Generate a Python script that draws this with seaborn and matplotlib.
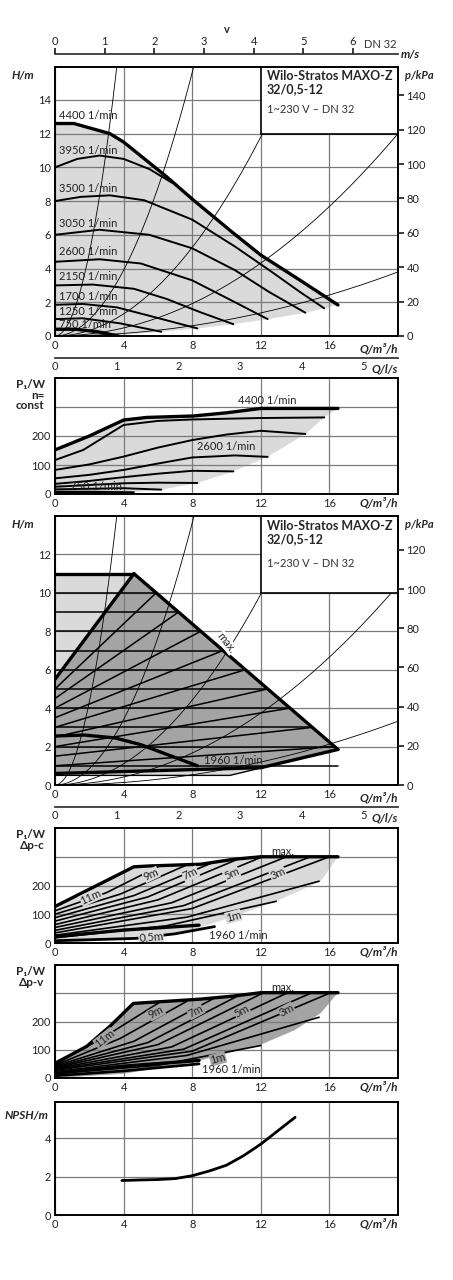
import numpy as np
import matplotlib
matplotlib.use("Agg")
import matplotlib.pyplot as plt
import seaborn as sns

sns.set_theme(style="white")
plt.rcParams['font.family'] = ['Lato', 'DejaVu Sans']
plt.rcParams['font.size'] = 8

# ---------------- data ----------------
x_ticks = [0, 4, 8, 12, 16]
v_ticks = [0, 1, 2, 3, 4, 5, 6]
qls_ticks = [0, 1, 2, 3, 4, 5]
kpa_ticks1 = [0, 20, 40, 60, 80, 100, 120, 140]
kpa_ticks3 = [0, 20, 40, 60, 80, 100, 120]

speeds = ["4400", "3950", "3500", "3050", "2600", "2150", "1700", "1250", "750"]
h_q = {
    "4400": [0, 1.1, 3.2, 4.0, 6.5, 8.07, 10.4, 12.0, 14.3, 16.5],
    "3950": [0, 1.3, 2.6, 4, 5.5, 6.8],
    "3500": [0, 1.5, 3.2, 5.2, 8, 10.5, 12.5, 14.3, 15.7],
    "3050": [0, 2.6, 5.5, 8, 10.5, 12.5, 14.6],
    "2600": [0, 2.6, 5, 8, 10.5, 12.4],
    "2150": [0, 2.2, 4.6, 6.5, 8.5, 10.4],
    "1700": [0, 1.6, 3.6, 5.5, 8.3],
    "1250": [0, 1.6, 3.8, 6.2],
    "750": [0, 1.2, 2.5, 3.7],
}
h_h = {
    "4400": [12.6, 12.6, 12.0, 11.5, 9.45, 8.06, 6.1, 4.8, 3.3, 1.84],
    "3950": [10, 10.5, 10.7, 10.5, 9.9, 9.1],
    "3500": [8, 8.25, 8.34, 8.05, 6.9, 5.3, 3.9, 2.6, 1.64],
    "3050": [6, 6.3, 6.0, 5.2, 3.9, 2.6, 1.38],
    "2600": [4.4, 4.55, 4.3, 3.3, 2.0, 1.0],
    "2150": [3, 3.05, 2.8, 2.2, 1.4, 0.7],
    "1700": [1.85, 1.9, 1.7, 1.2, 0.45],
    "1250": [1.0, 1.05, 0.75, 0.25],
    "750": [0.4, 0.4, 0.25, 0.0],
}
h_label_y = [13.05, 11.0, 8.75, 6.68, 5.0, 3.5, 2.37, 1.44, 0.71]
low1_q = [0, 3.7, 6.2, 8.3, 10.4, 12.4, 14.6, 15.7, 16.5]
low1_h = [0, 0.05, 0.25, 0.45, 0.7, 1.0, 1.38, 1.64, 1.84]
sys_k1 = [1.23, 0.244, 0.082, 0.03, 0.0095]
sys_k3 = [1.08, 0.213, 0.069, 0.026, 0.0083]

p_q = {
    "4400": [0, 2, 4, 5.35, 8.07, 10, 12, 16.5],
    "3950": [0, 1.65, 4, 6, 8, 12, 15.7],
    "3500": [0, 2, 4, 6, 8, 10, 12, 14.6],
    "3050": [0, 2, 4, 6, 8, 10.5, 12.4],
    "2600": [0, 2, 4, 6, 8, 10.4],
    "2150": [0, 2, 4, 6, 8.3],
    "1700": [0, 2, 4, 6.2],
    "1250": [0, 2, 4.6],
    "750": [0, 1.8, 3.6],
}
p_p = {
    "4400": [152, 200, 255, 264, 269, 280, 295, 295],
    "3950": [117, 152, 238, 252, 257, 262, 264],
    "3500": [83, 102, 129, 160, 186, 205, 218, 207],
    "3050": [54, 66, 83, 105, 126, 133, 128],
    "2600": [35, 45, 58, 70, 80, 78],
    "2150": [25, 31, 37, 39, 38],
    "1700": [16, 18, 20, 15],
    "1250": [8, 8, 6],
    "750": [3, 3, 3],
}
low2_q = [0, 3.6, 4.6, 6.2, 8.3, 10.4, 12.4, 14.6, 15.7, 16.5]
low2_p = [0, 3, 6, 15, 38, 78, 128, 207, 264, 295]

# panel 3 (H, regulated)
light3_q = [0, 0, 4.6, 16.5, 10.2]
light3_h = [0.5, 11, 11, 1.85, 0.5]
dark3_q = [0, 0, 4.6, 16.5, 12]
dark3_h = [0.6, 5.5, 11, 1.85, 0.9]
max3_q = [4.6, 16.5]
max3_h = [11, 1.85]
pc_levels = [1, 2, 3, 4, 5, 6, 7, 8, 9, 10]
pv_levels = [2, 3, 4, 5, 6, 7, 8, 9, 10]
q1960_3 = [0, 1.7, 3.5, 5, 6.5, 8.3]
h1960_3 = [2.55, 2.6, 2.45, 2.1, 1.6, 1.0]
bot3_q = [0, 12, 16.5]
bot3_h = [0.6, 0.9, 1.85]

# panel 4 (P1, dp-c)
max4_q = [0, 4.6, 5.5, 8.5, 10.4, 12, 16.5]
max4_p = [127, 265, 268, 274, 291, 300, 300]
low4_q = [0, 4, 8, 10.4, 12.9, 15.5, 16.5]
low4_p = [0, 12, 45, 92, 145, 215, 300]
lines4_q = [[0, 3.0, 6.1], [0, 3.8, 7.7], [0, 4.6, 9.2], [0, 5.4, 10.8], [0, 6.0, 12.1],
            [0, 6.8, 13.5], [0, 7.5, 14.9], [0, 8.0, 16.0], [0, 7.7, 15.4], [0, 6.5, 12.9]]
lines4_p = [[112, 175, 268], [100, 170, 272], [88, 165, 280], [76, 160, 295], [64, 150, 300],
            [54, 140, 300], [44, 130, 300], [35, 120, 300], [27, 90, 215], [18, 60, 145]]
q1960_4 = [0, 4, 8.4]
p1960_4 = [22, 45, 62]
q05_4 = [0, 4.7, 7, 9.3]
p05_4 = [8, 16, 32, 57]

# panel 5 (P1, dp-v)
max5_q = [0, 1.85, 3.2, 4.57, 8.45, 10.4, 12, 16.5]
max5_p = [52, 112, 183, 264, 279, 290, 302, 302]
low5_q = [0, 4, 8, 12, 14, 15.5, 16.5]
low5_p = [0, 15, 55, 118, 170, 230, 302]
lines5_q = [[0, 3.0, 6.1], [0, 3.8, 7.7], [0, 4.6, 9.2], [0, 5.4, 10.8], [0, 6.0, 12.1],
            [0, 6.8, 13.5], [0, 7.5, 14.9], [0, 8.0, 16.0], [0, 7.7, 15.4], [0, 6.0, 12.0]]
lines5_p = [[48, 150, 268], [45, 140, 272], [42, 130, 280], [39, 125, 295], [36, 118, 300],
            [33, 110, 300], [30, 102, 300], [27, 95, 300], [22, 80, 215], [15, 45, 115]]
q1960_5 = [0, 4, 8.4]
p1960_5 = [18, 42, 62]
qb_5 = [0, 4, 8.4]
pb_5 = [8, 25, 50]

npsh_q = [3.9, 5, 6, 7, 8, 9, 10, 11, 12, 13, 14]
npsh_h = [1.8, 1.83, 1.85, 1.9, 2.05, 2.3, 2.6, 3.1, 3.7, 4.4, 5.1]

# ---------------- drawing ----------------
W, H = 453, 1280
fig = plt.figure(figsize=(W / 100, H / 100), dpi=100)
LIGHT = "#dadada"
DARK = "#a4a4a4"
TXT = "#222"


def mk_axes(top_px, bot_px):
    ax = fig.add_axes([55 / W, 1 - bot_px / H, 343 / W, (bot_px - top_px) / H])
    ax.set_xlim(0, 20)
    ax.set_xticks(x_ticks)
    ax.set_axisbelow(False)
    ax.grid(True, color="#7a7a7a", lw=0.9, zorder=2)
    for s in ax.spines.values():
        s.set_color("black")
        s.set_linewidth(1.4)
        s.set_zorder(6)
    ax.tick_params(length=0, labelsize=8, pad=3, colors=TXT)
    ax.text(1.0, -0.025, "Q/m³/h", transform=ax.transAxes, ha="right", va="top",
            fontsize=8.5, fontweight="bold", style="italic")
    return ax


def curve(ax, q, y, lw=1.3, z=4, color="black"):
    sns.lineplot(x=q, y=y, ax=ax, color=color, lw=lw, sort=False, estimator=None,
                 legend=False, zorder=z)


def scale_axis(y_px, lim, ticks, labels_up):
    a = fig.add_axes([55 / W, 1 - y_px / H, 343 / W, 0.0001])
    a.set_facecolor("none")
    a.set_xlim(0, lim)
    a.set_yticks([])
    for k in ["left", "right"]:
        a.spines[k].set_visible(False)
    if labels_up:
        a.spines["bottom"].set_visible(False)
        a.spines["top"].set_linewidth(1.2)
        a.xaxis.set_ticks_position("top")
        a.tick_params(axis="x", direction="out", length=4, labelsize=8, pad=1, colors=TXT)
    else:
        a.spines["top"].set_visible(False)
        a.spines["bottom"].set_linewidth(1.2)
        a.tick_params(axis="x", direction="in", length=4, labelsize=8, pad=2, colors=TXT)
    a.set_xticks(ticks)
    return a


def box(ax, h0, h1):
    ax.add_patch(plt.Rectangle((12, h0), 8, h1 - h0, facecolor="white", edgecolor="black",
                               lw=1.2, zorder=5))
    ax.text(12.35, h1 - 0.2 * (h1 - h0) / 4, "Wilo-Stratos MAXO-Z\n32/0,5-12", fontsize=9,
            fontweight="bold", va="top", ha="left", zorder=6, linespacing=1.1)
    ax.text(12.35, h1 - 2.2 * (h1 - h0) / 4, "1~230 V – DN 32", fontsize=8, va="top",
            ha="left", zorder=6, color="#333")


def kpa(ax, hmax, ticks):
    r = ax.twinx()
    r.set_ylim(0, hmax * 9.81)
    r.set_yticks(ticks)
    r.tick_params(axis="y", direction="out", length=4, labelsize=8, pad=2, colors=TXT)
    r.grid(False)
    for s in r.spines.values():
        s.set_visible(False)
    r.text(1.02, 0.99, "p/kPa", transform=ax.transAxes, fontsize=8, fontweight="bold",
           style="italic", ha="left", va="top")


def system(ax, ks):
    qq = np.linspace(0, 20, 200)
    for k in ks:
        sns.lineplot(x=qq, y=k * qq ** 2, ax=ax, color="black", lw=0.6, legend=False, zorder=3)


# v-axis
scale_axis(54, 20 / 3600 / (np.pi * 0.016 ** 2), v_ticks, True)
fig.text(227 / W, 1 - 33 / H, "v", fontsize=8, fontweight="bold", ha="center")
fig.text(397 / W, 1 - 48 / H, "DN 32", fontsize=8, ha="right", color="#333")
fig.text(401 / W, 1 - 58 / H, "m/s", fontsize=8.5, fontweight="bold", style="italic", ha="left")

# Panel 1
ax1 = mk_axes(67, 336)
ax1.set_ylim(0, 15.95)
ax1.set_yticks([0, 2, 4, 6, 8, 10, 12, 14])
ax1.fill(list(h_q["4400"]) + low1_q[::-1], list(h_h["4400"]) + low1_h[::-1],
         color=LIGHT, zorder=1, lw=0)
system(ax1, sys_k1)
for s, ly in zip(speeds, h_label_y):
    lw = 2.4 if s in ("4400", "750") else 1.4
    curve(ax1, h_q[s], h_h[s], lw=lw)
    ax1.text(0.25, ly, f"{s} 1/min", fontsize=8, va="center", ha="left", zorder=6, color=TXT)
box(ax1, 12, 15.95)
kpa(ax1, 15.95, kpa_ticks1)
ax1.text(-0.06, 0.99, "H/m", transform=ax1.transAxes, ha="right", va="top", fontsize=8.5,
         fontweight="bold", style="italic")
ax1.set_ylabel(""); ax1.set_xlabel("")

# l/s axis 1
scale_axis(358, 20 / 3.6, qls_ticks, False)
fig.text(398 / W, 1 - 369 / H, "Q/l/s", fontsize=8.5, fontweight="bold", style="italic",
         ha="right", va="center")

# Panel 2
ax2 = mk_axes(378, 494)
ax2.set_ylim(0, 400)
ax2.set_yticks([0, 100, 200])
ax2.axhline(300, color="#7a7a7a", lw=0.9, zorder=2)
ax2.fill(list(p_q["4400"]) + low2_q[::-1], list(p_p["4400"]) + low2_p[::-1],
         color=LIGHT, zorder=1, lw=0)
for s in speeds:
    lw = 2.4 if s in ("4400", "750") else 1.4
    curve(ax2, p_q[s], p_p[s], lw=lw)
ax2.text(12.4, 322, "4400 1/min", fontsize=8, ha="center", va="center", color=TXT)
ax2.text(10.0, 165, "2600 1/min", fontsize=8, ha="center", va="center", color=TXT)
ax2.text(0.9, 25, "750 1/min", fontsize=8, ha="left", va="center", color=TXT, zorder=6)
ax2.text(-0.03, 0.99, "P₁/W\nn=\nconst", transform=ax2.transAxes, ha="right", va="top",
         fontsize=8.5, fontweight="bold", linespacing=0.95)
ax2.set_ylabel(""); ax2.set_xlabel("")

# Panel 3
ax3 = mk_axes(516, 785)
ax3.set_ylim(0, 14)
ax3.set_yticks([0, 2, 4, 6, 8, 10, 12])
ax3.fill(light3_q, light3_h, color=LIGHT, zorder=1, lw=0)
ax3.fill(dark3_q, dark3_h, color=DARK, zorder=1.1, lw=0)
for lv in pc_levels:
    qe = np.interp(lv, max3_h[::-1], max3_q[::-1])
    curve(ax3, [0, qe], [lv, lv], lw=1.1, z=3.5)
for lv in pv_levels:
    qe = np.interp(lv, max3_h[::-1], max3_q[::-1])
    curve(ax3, [0, qe], [lv / 2, lv], lw=1.1, z=3.5)
system(ax3, sys_k3)
curve(ax3, [0, 4.6], [11, 11], lw=2.4)
curve(ax3, max3_q, max3_h, lw=2.4)
curve(ax3, [0, 4.6], [5.5, 11], lw=2.4)
curve(ax3, bot3_q, bot3_h, lw=2.4)
curve(ax3, [0, 10.2, 16.5], [0.5, 0.5, 1.85], lw=1.0)
curve(ax3, q1960_3, h1960_3, lw=2.4)
ax3.text(8.7, 1.25, "1960 1/min", fontsize=8, ha="left", va="center", color=TXT, zorder=6)
ax3.text(10.0, 7.4, "max.", fontsize=8, rotation=-52, ha="center", va="center", zorder=6,
         bbox=dict(facecolor="white", edgecolor="none", pad=0.3))
box(ax3, 10, 14)
kpa(ax3, 14, kpa_ticks3)
ax3.text(-0.06, 0.99, "H/m", transform=ax3.transAxes, ha="right", va="top", fontsize=8.5,
         fontweight="bold", style="italic")
ax3.set_ylabel(""); ax3.set_xlabel("")

# l/s axis 2
scale_axis(807, 20 / 3.6, qls_ticks, False)
fig.text(398 / W, 1 - 818 / H, "Q/l/s", fontsize=8.5, fontweight="bold", style="italic",
         ha="right", va="center")

# Panel 4
ax4 = mk_axes(828, 943)
ax4.set_ylim(0, 400)
ax4.set_yticks([0, 100, 200])
ax4.axhline(300, color="#7a7a7a", lw=0.9, zorder=2)
ax4.fill(max4_q + low4_q[::-1], max4_p + low4_p[::-1], color=LIGHT, zorder=1, lw=0)
for q, p in zip(lines4_q, lines4_p):
    curve(ax4, q, p, lw=1.2, z=3.5)
curve(ax4, max4_q, max4_p, lw=2.4)
curve(ax4, q1960_4, p1960_4, lw=2.4)
curve(ax4, q05_4, p05_4, lw=2.0)
for t, x, y, r in [("11m", 2.1, 160, 25), ("9m", 5.6, 238, 25), ("7m", 7.9, 240, 25),
                   ("5m", 10.3, 240, 25), ("3m", 13.0, 240, 25), ("1m", 10.4, 92, 15),
                   ("0,5m", 5.6, 20, 5)]:
    ax4.text(x, y, t, fontsize=8, rotation=r, ha="center", va="center", zorder=6, color=TXT,
             bbox=dict(facecolor=LIGHT, edgecolor="none", pad=0.2))
ax4.text(9.0, 25, "1960 1/min", fontsize=8, ha="left", va="center", color=TXT, zorder=6)
ax4.text(13.3, 318, "max.", fontsize=8, ha="center", va="center", color=TXT)
ax4.text(-0.03, 0.99, "P₁/W\nΔp-c", transform=ax4.transAxes, ha="right", va="top",
         fontsize=8.5, fontweight="bold", linespacing=1.0)
ax4.set_ylabel(""); ax4.set_xlabel("")

# Panel 5
ax5 = mk_axes(965, 1078)
ax5.set_ylim(0, 400)
ax5.set_yticks([0, 100, 200])
ax5.axhline(300, color="#7a7a7a", lw=0.9, zorder=2)
ax5.fill(max5_q + low5_q[::-1], max5_p + low5_p[::-1], color=DARK, zorder=1, lw=0)
for q, p in zip(lines5_q, lines5_p):
    curve(ax5, q, p, lw=1.2, z=3.5)
curve(ax5, max5_q, max5_p, lw=2.4)
curve(ax5, q1960_5, p1960_5, lw=2.4)
curve(ax5, qb_5, pb_5, lw=2.0)
for t, x, y, r in [("11m", 2.9, 140, 38), ("9m", 5.9, 232, 28), ("7m", 8.2, 236, 28),
                   ("5m", 10.9, 236, 28), ("3m", 13.5, 240, 28), ("1m", 9.5, 68, 15)]:
    ax5.text(x, y, t, fontsize=8, rotation=r, ha="center", va="center", zorder=6, color=TXT,
             bbox=dict(facecolor=DARK, edgecolor="none", pad=0.2))
ax5.text(8.6, 30, "1960 1/min", fontsize=8, ha="left", va="center", color=TXT, zorder=6)
ax5.text(13.3, 320, "max.", fontsize=8, ha="center", va="center", color=TXT)
ax5.text(-0.03, 0.99, "P₁/W\nΔp-v", transform=ax5.transAxes, ha="right", va="top",
         fontsize=8.5, fontweight="bold", linespacing=1.0)
ax5.set_ylabel(""); ax5.set_xlabel("")

# Panel 6
ax6 = mk_axes(1102, 1215)
ax6.set_ylim(0, 5.9)
ax6.set_yticks([0, 2, 4])
curve(ax6, npsh_q, npsh_h, lw=2.0)
ax6.text(-0.02, 0.93, "NPSH/m", transform=ax6.transAxes, ha="right", va="top",
         fontsize=8.5, fontweight="bold", style="italic")
ax6.set_ylabel(""); ax6.set_xlabel("")

fig.savefig("out.png", dpi=100)
